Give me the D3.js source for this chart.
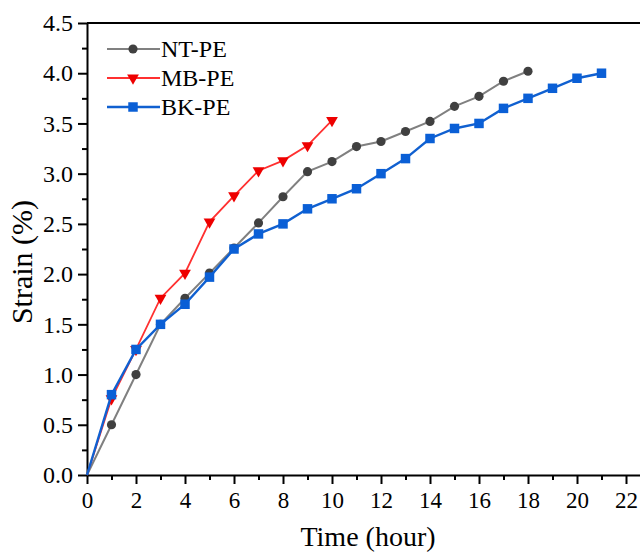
<!DOCTYPE html>
<html>
<head>
<meta charset="utf-8">
<script src="https://cdn.jsdelivr.net/npm/d3@7"></script>
<style>
body { margin: 0; background: #fff; }
svg { display: block; }
svg text { font-family: "Liberation Serif", "Times New Roman", serif; }
</style>
</head>
<body>
<svg id="chart" width="640" height="555"></svg>
<script>
// data
var hoursNT = [0,1,2,3,4,5,6,7,8,9,10,11,12,13,14,15,16,17,18];
var strainNT = [0,0.50,1.00,1.50,1.76,2.01,2.26,2.51,2.77,3.02,3.12,3.27,3.32,3.42,3.52,3.67,3.77,3.92,4.02];
var hoursMB = [0,1,2,3,4,5,6,7,8,9,10];
var strainMB = [0,0.76,1.25,1.76,2.01,2.52,2.78,3.03,3.13,3.28,3.53];
var hoursBK = [0,1,2,3,4,5,6,7,8,9,10,11,12,13,14,15,16,17,18,19,20,21];
var strainBK = [0,0.80,1.25,1.50,1.70,1.97,2.25,2.40,2.50,2.65,2.75,2.85,3.00,3.15,3.35,3.45,3.50,3.65,3.75,3.85,3.95,4.00];
var seriesNames = ["NT-PE", "MB-PE", "BK-PE"];
var xTicks = [0,2,4,6,8,10,12,14,16,18,20,22];
var yTicks = [0,0.5,1,1.5,2,2.5,3,3.5,4,4.5];

var series = [
    {name: seriesNames[0], x: hoursNT, y: strainNT, line: "#808080", fill: "#404040", sym: d3.symbolCircle, size: 66, rot: 0, lw: 2},
    {name: seriesNames[1], x: hoursMB, y: strainMB, line: "#ff3030", fill: "#ee0000", sym: d3.symbolTriangle, size: 60, rot: 180, lw: 1.8},
    {name: seriesNames[2], x: hoursBK, y: strainBK, line: "#1060d0", fill: "#0a5fd6", sym: d3.symbolSquare, size: 90, rot: 0, lw: 2.4}
];

var svg = d3.select("#chart");
var padLeft = 87, padTop = 23, plotBottom = 475;

var x = d3.scaleLinear().domain([0, 23]).range([padLeft, padLeft + 23 * 24.5]);
var y = d3.scaleLinear().domain([0, 4.5]).range([plotBottom, padTop]);

// minor ticks
svg.append("g")
    .attr("transform", "translate(0," + plotBottom + ")")
    .call(d3.axisBottom(x).tickValues(d3.range(1, 24, 2)).tickSize(5).tickFormat(""))
    .call(g => g.select(".domain").remove());
svg.append("g")
    .attr("transform", "translate(" + padLeft + ",0)")
    .call(d3.axisLeft(y).tickValues(d3.range(0.25, 4.5, 0.5)).tickSize(5).tickFormat(""))
    .call(g => g.select(".domain").remove());

// major ticks + labels
var xa = svg.append("g")
    .attr("transform", "translate(0," + plotBottom + ")")
    .call(d3.axisBottom(x).tickValues(xTicks).tickSize(9).tickSizeOuter(0).tickPadding(8).tickFormat(d3.format("d")))
    .attr("font-size", 23);
xa.selectAll("text").attr("fill", "#000");

var ya = svg.append("g")
    .attr("transform", "translate(" + padLeft + ",0)")
    .call(d3.axisLeft(y).tickValues(yTicks).tickSize(9).tickSizeOuter(0).tickPadding(5).tickFormat(d3.format(".1f")))
    .attr("font-size", 24);
ya.selectAll("text").attr("fill", "#000");

svg.selectAll(".tick line").attr("stroke", "#000").attr("stroke-width", 2);
svg.selectAll(".domain").attr("stroke", "#000").attr("stroke-width", 2);

// top frame
svg.append("line")
    .attr("x1", padLeft).attr("x2", 640)
    .attr("y1", padTop).attr("y2", padTop)
    .attr("stroke", "#000").attr("stroke-width", 2);

// axis titles
svg.append("text")
    .attr("x", 368).attr("y", 546)
    .attr("text-anchor", "middle")
    .attr("font-size", 28)
    .text("Time (hour)");
svg.append("text")
    .attr("transform", "translate(32,262) rotate(-90)")
    .attr("text-anchor", "middle")
    .attr("font-size", 30)
    .text("Strain (%)");

// series
series.forEach(function(s) {
    var pts = s.x.map(function(d, i) { return [d, s.y[i]]; });
    svg.append("path")
        .datum(pts)
        .attr("fill", "none")
        .attr("stroke", s.line)
        .attr("stroke-width", s.lw)
        .attr("d", d3.line().x(d => x(d[0])).y(d => y(d[1])));
    svg.append("g").selectAll("path")
        .data(pts.slice(1))
        .join("path")
        .attr("d", d3.symbol().type(s.sym).size(s.size))
        .attr("transform", d => "translate(" + x(d[0]) + "," + y(d[1]) + ") rotate(" + s.rot + ")")
        .attr("fill", s.fill);
});

// legend
var legend = svg.append("g");
series.forEach(function(s, i) {
    var ly = 49 + i * 29;
    legend.append("line")
        .attr("x1", 107).attr("x2", 160)
        .attr("y1", ly).attr("y2", ly)
        .attr("stroke", s.line).attr("stroke-width", s.lw);
    legend.append("path")
        .attr("d", d3.symbol().type(s.sym).size(s.size))
        .attr("transform", "translate(133," + ly + ") rotate(" + s.rot + ")")
        .attr("fill", s.fill);
    legend.append("text")
        .attr("x", 161).attr("y", ly + 8)
        .attr("font-size", 24)
        .text(s.name);
});
</script>
</body>
</html>
